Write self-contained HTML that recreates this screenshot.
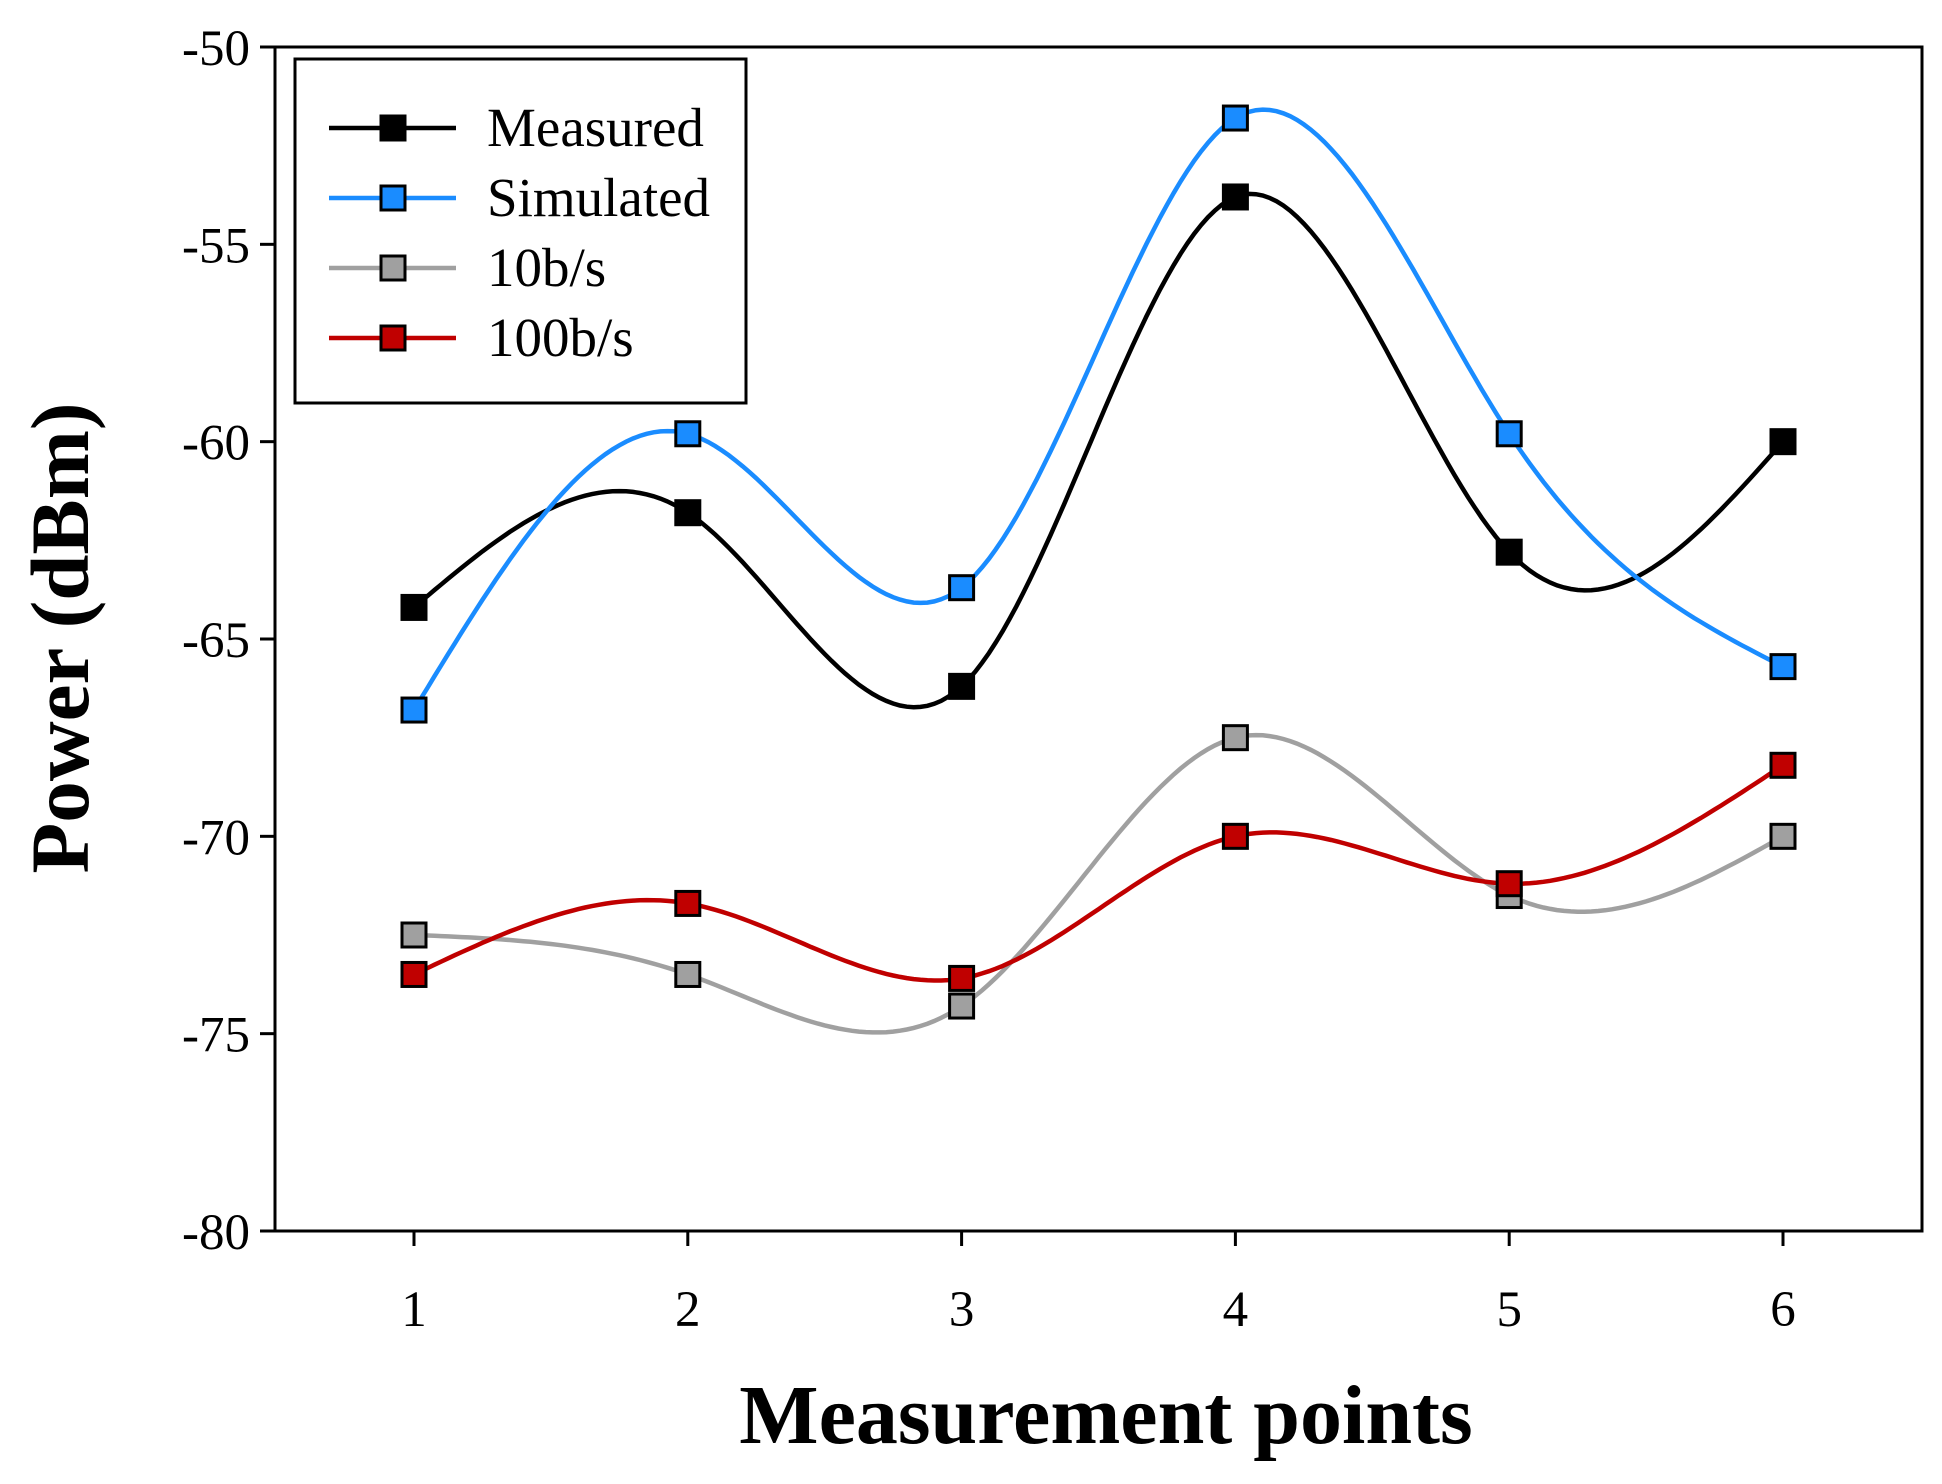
<!DOCTYPE html>
<html><head><meta charset="utf-8"><style>
body{margin:0;background:#fff}
svg{display:block;font-family:"Liberation Serif",serif}
</style></head><body>
<svg id="chart" width="1942" height="1484" viewBox="0 0 1942 1484">
<rect x="275" y="47" width="1647" height="1184" fill="none" stroke="#000" stroke-width="3"/>
<g id="axes"></g>
<g id="series"></g>
<g>
<rect x="295" y="59" width="451" height="344" fill="#fff" stroke="#000" stroke-width="3"/>
<g id="legend"></g>
</g>
<text x="1106" y="1443" text-anchor="middle" font-size="84" font-weight="bold">Measurement points</text>
<text x="0" y="0" transform="translate(88,638) rotate(-90)" text-anchor="middle" font-size="83" font-weight="bold">Power (dBm)</text>
</svg>
<script>
const categories=[1,2,3,4,5,6];
const yTicks=[-50,-55,-60,-65,-70,-75,-80];
const measured=[-64.2,-61.8,-66.2,-53.8,-62.8,-60.0];
const simulated=[-66.8,-59.8,-63.7,-51.8,-59.8,-65.7];
const rate10=[-72.5,-73.5,-74.3,-67.5,-71.5,-70.0];
const rate100=[-73.5,-71.7,-73.6,-70.0,-71.2,-68.2];
const seriesNames=["Measured","Simulated","10b/s","100b/s"];
const NS="http://www.w3.org/2000/svg";
function X(v){return 414+(v-1)*(1783-414)/5;}
function Y(v){return 47+(-50-v)*(1231-47)/30;}
function mk(t,a,p){const e=document.createElementNS(NS,t);for(const k in a)e.setAttribute(k,a[k]);p.appendChild(e);return e;}
const ax=document.getElementById('axes');
yTicks.forEach(t=>{
 const l=mk('line',{x1:260,x2:275,y1:Y(t),y2:Y(t),stroke:'#000','stroke-width':3},ax);
 
 
 const tx=mk('text',{x:250,y:Y(t)+18,'text-anchor':'end','font-size':51},ax);tx.textContent=t;
 
 
});
categories.forEach(c=>{
 const l=mk('line',{x1:X(c),x2:X(c),y1:1231,y2:1246,stroke:'#000','stroke-width':3},ax);
 
 
 const tx=mk('text',{x:X(c),y:1326,'text-anchor':'middle','font-size':51},ax);tx.textContent=c;
 
 
});
function spline(xs,ys){
 const n=xs.length,h=[],al=[],l=[1],mu=[0],z=[0],c=new Array(n).fill(0),b=[],d=[];
 for(let i=0;i<n-1;i++)h[i]=xs[i+1]-xs[i];
 for(let i=1;i<n-1;i++)al[i]=3/h[i]*(ys[i+1]-ys[i])-3/h[i-1]*(ys[i]-ys[i-1]);
 for(let i=1;i<n-1;i++){l[i]=2*(xs[i+1]-xs[i-1])-h[i-1]*mu[i-1];mu[i]=h[i]/l[i];z[i]=(al[i]-h[i-1]*z[i-1])/l[i];}
 z[n-1]=0;
 for(let j=n-2;j>=0;j--){c[j]=z[j]-mu[j]*c[j+1];b[j]=(ys[j+1]-ys[j])/h[j]-h[j]*(c[j+1]+2*c[j])/3;d[j]=(c[j+1]-c[j])/(3*h[j]);}
 const pts=[];
 for(let j=0;j<n-1;j++)for(let k=0;k<40;k++){const t=k/40*h[j];pts.push([xs[j]+t,ys[j]+b[j]*t+c[j]*t*t+d[j]*t*t*t]);}
 pts.push([xs[n-1],ys[n-1]]);return pts;
}
const sg=document.getElementById('series');
const lg=document.getElementById('legend');
const data=[measured,simulated,rate10,rate100];
const colors=[["#000","#000"],["#1a8cff","#1a8cff"],["#a0a0a0","#a0a0a0"],["#c00000","#c00000"]];
const names=["measured","simulated","10bps","100bps"];
data.forEach((vals,si)=>{
 const g=mk('g',{},sg);
 
 
 const pts=spline(categories,vals);
 const p=mk('path',{d:'M'+pts.map(q=>X(q[0]).toFixed(1)+','+Y(q[1]).toFixed(1)).join('L'),fill:'none',stroke:colors[si][0],'stroke-width':4.5},g);
 
 
 vals.forEach((v,i)=>{
  const r=mk('rect',{x:X(categories[i])-12,y:Y(v)-12,width:24,height:24,fill:colors[si][1],stroke:'#000','stroke-width':3},g);
  
  
 });
 const ly=128+si*70;
 const le=mk('g',{},lg);
 
 
 mk('line',{x1:329,x2:456,y1:ly,y2:ly,stroke:colors[si][0],'stroke-width':4.5},le);
 mk('rect',{x:381,y:ly-12,width:24,height:24,fill:colors[si][1],stroke:'#000','stroke-width':3},le);
 const t=mk('text',{x:487,y:ly+18,'font-size':55},le);t.textContent=seriesNames[si];
});
</script>
</body></html>
